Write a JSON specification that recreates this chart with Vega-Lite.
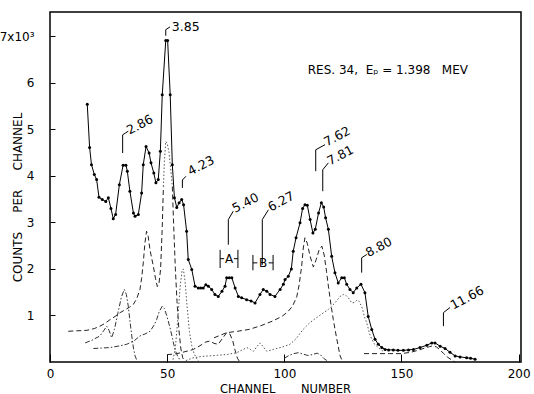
{
  "$schema": "https://vega.github.io/schema/vega-lite/v6.json",
  "width": 471,
  "height": 350,
  "autosize": {"type": "none"},
  "padding": {"left": 50, "top": 12, "right": 13, "bottom": 32},
  "background": "white",
  "config": {
    "font": "DejaVu Sans",
    "view": {"stroke": "black", "strokeWidth": 1.5},
    "axis": {"domain": false, "grid": false, "tickColor": "black", "labelColor": "black", "titleColor": "black", "labelFontWeight": "normal", "titleFontWeight": "normal"}
  },
  "datasets": {
    "main": [
      {"ch":15.9,"v":5.54},{"ch":16.9,"v":4.61},{"ch":17.7,"v":4.24},{"ch":18.9,"v":4.03},{"ch":19.9,"v":3.92},{"ch":20.9,"v":3.54},{"ch":22.3,"v":3.49},{"ch":23.8,"v":3.45},{"ch":24.9,"v":3.53},{"ch":26.0,"v":3.3},{"ch":27.0,"v":3.08},{"ch":28.0,"v":3.17},{"ch":29.6,"v":3.81},{"ch":31.2,"v":4.23},{"ch":32.4,"v":4.23},{"ch":33.0,"v":4.1},{"ch":34.1,"v":3.67},{"ch":35.6,"v":3.2},{"ch":36.3,"v":3.13},{"ch":37.7,"v":3.17},{"ch":39.1,"v":3.63},{"ch":39.8,"v":4.24},{"ch":41.0,"v":4.63},{"ch":42.3,"v":4.49},{"ch":43.1,"v":4.28},{"ch":44.3,"v":4.06},{"ch":45.2,"v":3.85},{"ch":46.2,"v":3.92},{"ch":47.1,"v":4.53},{"ch":47.9,"v":5.74},{"ch":49.4,"v":6.91},{"ch":50.2,"v":6.91},{"ch":51.3,"v":5.74},{"ch":52.2,"v":4.24},{"ch":53.1,"v":3.53},{"ch":54.1,"v":3.32},{"ch":55.1,"v":3.42},{"ch":56.2,"v":3.49},{"ch":57.0,"v":3.38},{"ch":58.3,"v":2.81},{"ch":59.0,"v":2.2},{"ch":60.5,"v":1.99},{"ch":61.9,"v":1.63},{"ch":63.3,"v":1.59},{"ch":64.3,"v":1.59},{"ch":65.4,"v":1.59},{"ch":66.5,"v":1.66},{"ch":67.6,"v":1.63},{"ch":69.0,"v":1.56},{"ch":70.4,"v":1.45},{"ch":71.8,"v":1.41},{"ch":73.4,"v":1.52},{"ch":74.7,"v":1.63},{"ch":75.4,"v":1.81},{"ch":76.5,"v":1.81},{"ch":77.6,"v":1.81},{"ch":79.0,"v":1.59},{"ch":80.4,"v":1.41},{"ch":81.8,"v":1.38},{"ch":83.9,"v":1.34},{"ch":85.8,"v":1.31},{"ch":87.5,"v":1.27},{"ch":89.6,"v":1.45},{"ch":91.0,"v":1.56},{"ch":92.5,"v":1.52},{"ch":93.9,"v":1.45},{"ch":96.0,"v":1.41},{"ch":98.2,"v":1.56},{"ch":99.6,"v":1.67},{"ch":100.3,"v":1.77},{"ch":101.7,"v":1.84},{"ch":103.0,"v":2.0},{"ch":103.8,"v":2.38},{"ch":105.0,"v":2.67},{"ch":106.7,"v":2.99},{"ch":107.8,"v":3.3},{"ch":108.8,"v":3.38},{"ch":109.8,"v":3.37},{"ch":111.0,"v":3.06},{"ch":112.2,"v":2.77},{"ch":113.2,"v":2.85},{"ch":114.6,"v":3.2},{"ch":115.8,"v":3.42},{"ch":116.8,"v":3.33},{"ch":117.6,"v":3.1},{"ch":118.8,"v":2.85},{"ch":120.2,"v":2.27},{"ch":121.6,"v":1.92},{"ch":123.0,"v":1.7},{"ch":124.5,"v":1.81},{"ch":125.6,"v":1.81},{"ch":126.6,"v":1.67},{"ch":128.0,"v":1.56},{"ch":129.4,"v":1.49},{"ch":130.9,"v":1.59},{"ch":132.7,"v":1.67},{"ch":134.4,"v":1.49},{"ch":135.8,"v":0.98},{"ch":137.3,"v":0.7},{"ch":138.7,"v":0.49},{"ch":140.1,"v":0.38},{"ch":141.6,"v":0.31},{"ch":143.0,"v":0.27},{"ch":144.5,"v":0.26},{"ch":146.5,"v":0.26},{"ch":148.5,"v":0.25},{"ch":150.8,"v":0.25},{"ch":153.0,"v":0.26},{"ch":155.1,"v":0.27},{"ch":157.9,"v":0.31},{"ch":160.8,"v":0.36},{"ch":162.9,"v":0.41},{"ch":164.3,"v":0.41},{"ch":166.5,"v":0.34},{"ch":168.6,"v":0.29},{"ch":170.7,"v":0.21},{"ch":172.9,"v":0.13},{"ch":175.0,"v":0.11},{"ch":177.8,"v":0.09},{"ch":179.5,"v":0.08},{"ch":181.4,"v":0.06}
    ],
    "dashed": [
      {"s":"a","ch":7.8,"v":0.66},{"s":"a","ch":11.5,"v":0.67},{"s":"a","ch":15.7,"v":0.68},{"s":"a","ch":19.0,"v":0.72},{"s":"a","ch":21.3,"v":0.77},{"s":"a","ch":23.5,"v":0.83},{"s":"a","ch":25.6,"v":0.91},{"s":"a","ch":27.8,"v":0.98},{"s":"a","ch":29.9,"v":1.06},{"s":"a","ch":32.0,"v":1.12},{"s":"a","ch":34.0,"v":1.18},{"s":"a","ch":35.6,"v":1.24},{"s":"a","ch":37.0,"v":1.36},{"s":"a","ch":38.4,"v":1.56},{"s":"a","ch":39.1,"v":1.8},{"s":"a","ch":39.8,"v":2.13},{"s":"a","ch":40.5,"v":2.55},{"s":"a","ch":41.2,"v":2.81},{"s":"a","ch":41.9,"v":2.7},{"s":"a","ch":42.7,"v":2.4},{"s":"a","ch":44.1,"v":2.06},{"s":"a","ch":45.0,"v":1.8},{"s":"a","ch":45.8,"v":1.62},{"s":"a","ch":46.5,"v":1.68},{"s":"a","ch":47.2,"v":2.0},{"s":"a","ch":47.9,"v":2.9},{"s":"a","ch":48.4,"v":3.77},
      {"s":"b","ch":52.2,"v":3.77},{"s":"b","ch":52.8,"v":2.9},{"s":"b","ch":53.5,"v":2.0},{"s":"b","ch":54.2,"v":1.3},{"s":"b","ch":55.0,"v":0.7},{"s":"b","ch":55.8,"v":0.3},{"s":"b","ch":56.6,"v":0.1},{"s":"b","ch":57.4,"v":0.0},
      {"s":"e","ch":70.0,"v":0.52},{"s":"e","ch":75.4,"v":0.63},{"s":"e","ch":80.0,"v":0.66},{"s":"e","ch":85.0,"v":0.7},{"s":"e","ch":90.0,"v":0.78},{"s":"e","ch":95.0,"v":0.88},{"s":"e","ch":99.0,"v":0.98},{"s":"e","ch":101.5,"v":1.08},{"s":"e","ch":103.5,"v":1.2},{"s":"e","ch":105.3,"v":1.4},{"s":"e","ch":106.3,"v":1.65},{"s":"e","ch":107.4,"v":2.06},{"s":"e","ch":108.1,"v":2.45},{"s":"e","ch":108.8,"v":2.67},{"s":"e","ch":109.8,"v":2.55},{"s":"e","ch":111.0,"v":2.27},{"s":"e","ch":112.4,"v":2.04},{"s":"e","ch":113.6,"v":2.2},{"s":"e","ch":114.8,"v":2.4},{"s":"e","ch":116.0,"v":2.49},{"s":"e","ch":117.0,"v":2.3},{"s":"e","ch":118.0,"v":1.95},{"s":"e","ch":118.8,"v":1.63},{"s":"e","ch":120.0,"v":1.2},{"s":"e","ch":120.9,"v":0.91},{"s":"e","ch":122.4,"v":0.49},{"s":"e","ch":123.8,"v":0.13},{"s":"e","ch":124.8,"v":0.02},
      {"s":"f","ch":50.0,"v":0.16},{"s":"f","ch":53.0,"v":0.17},{"s":"f","ch":56.0,"v":0.2},{"s":"f","ch":59.0,"v":0.24},{"s":"f","ch":61.2,"v":0.27},{"s":"f","ch":64.0,"v":0.35},{"s":"f","ch":66.5,"v":0.43},{"s":"f","ch":68.3,"v":0.45},{"s":"f","ch":70.0,"v":0.4},{"s":"f","ch":71.8,"v":0.38},{"s":"f","ch":73.5,"v":0.5},{"s":"f","ch":75.4,"v":0.63},{"s":"f","ch":76.8,"v":0.6},{"s":"f","ch":78.0,"v":0.45},{"s":"f","ch":79.0,"v":0.25},{"s":"f","ch":80.0,"v":0.08},{"s":"f","ch":81.0,"v":0.0},
      {"s":"h","ch":134.0,"v":0.18},{"s":"h","ch":140.0,"v":0.18},{"s":"h","ch":145.0,"v":0.18},{"s":"h","ch":150.0,"v":0.18},{"s":"h","ch":154.0,"v":0.21},{"s":"h","ch":157.0,"v":0.25},{"s":"h","ch":160.0,"v":0.3},{"s":"h","ch":162.0,"v":0.33},{"s":"h","ch":163.5,"v":0.35},{"s":"h","ch":165.0,"v":0.32},{"s":"h","ch":166.5,"v":0.26},{"s":"h","ch":168.0,"v":0.18},{"s":"h","ch":169.5,"v":0.11},{"s":"h","ch":171.5,"v":0.04},{"s":"h","ch":173.0,"v":0.0}
    ],
    "dotted": [
      {"s":"p385","ch":48.4,"v":3.77},{"s":"p385","ch":48.8,"v":4.3},{"s":"p385","ch":49.4,"v":4.74},{"s":"p385","ch":50.0,"v":4.7},{"s":"p385","ch":50.8,"v":4.5},{"s":"p385","ch":51.5,"v":4.15},{"s":"p385","ch":52.2,"v":3.77},
      {"s":"p423","ch":52.5,"v":0.05},{"s":"p423","ch":53.5,"v":0.3},{"s":"p423","ch":54.5,"v":0.9},{"s":"p423","ch":55.5,"v":1.6},{"s":"p423","ch":56.3,"v":1.95},{"s":"p423","ch":56.9,"v":2.0},{"s":"p423","ch":57.6,"v":1.75},{"s":"p423","ch":58.5,"v":1.2},{"s":"p423","ch":59.5,"v":0.65},{"s":"p423","ch":60.5,"v":0.35},{"s":"p423","ch":61.5,"v":0.18},{"s":"p423","ch":62.5,"v":0.08},{"s":"p423","ch":63.5,"v":0.02},
      {"s":"p880","ch":58.0,"v":0.03},{"s":"p880","ch":61.0,"v":0.09},{"s":"p880","ch":65.0,"v":0.12},{"s":"p880","ch":70.0,"v":0.14},{"s":"p880","ch":75.4,"v":0.16},{"s":"p880","ch":79.7,"v":0.2},{"s":"p880","ch":82.0,"v":0.26},{"s":"p880","ch":84.0,"v":0.31},{"s":"p880","ch":85.5,"v":0.27},{"s":"p880","ch":86.8,"v":0.23},{"s":"p880","ch":88.3,"v":0.33},{"s":"p880","ch":89.6,"v":0.41},{"s":"p880","ch":91.0,"v":0.33},{"s":"p880","ch":92.5,"v":0.23},{"s":"p880","ch":95.3,"v":0.27},{"s":"p880","ch":99.0,"v":0.32},{"s":"p880","ch":102.4,"v":0.38},{"s":"p880","ch":105.0,"v":0.5},{"s":"p880","ch":108.0,"v":0.7},{"s":"p880","ch":111.0,"v":0.85},{"s":"p880","ch":114.5,"v":0.98},{"s":"p880","ch":118.8,"v":1.13},{"s":"p880","ch":121.6,"v":1.27},{"s":"p880","ch":123.8,"v":1.41},{"s":"p880","ch":125.2,"v":1.45},{"s":"p880","ch":126.3,"v":1.43},{"s":"p880","ch":127.3,"v":1.38},{"s":"p880","ch":128.8,"v":1.27},{"s":"p880","ch":130.0,"v":1.28},{"s":"p880","ch":131.0,"v":1.33},{"s":"p880","ch":132.0,"v":1.3},{"s":"p880","ch":133.3,"v":1.15},{"s":"p880","ch":134.3,"v":0.95},{"s":"p880","ch":135.2,"v":0.84},{"s":"p880","ch":136.3,"v":0.62},{"s":"p880","ch":137.3,"v":0.49},{"s":"p880","ch":138.5,"v":0.38},{"s":"p880","ch":139.4,"v":0.34},{"s":"p880","ch":141.0,"v":0.27},{"s":"p880","ch":142.5,"v":0.22}
    ],
    "dashdot": [
      {"s":"p286","ch":15.0,"v":0.41},{"s":"p286","ch":18.0,"v":0.47},{"s":"p286","ch":21.3,"v":0.56},{"s":"p286","ch":23.0,"v":0.68},{"s":"p286","ch":24.2,"v":0.77},{"s":"p286","ch":25.2,"v":0.68},{"s":"p286","ch":26.3,"v":0.52},{"s":"p286","ch":27.5,"v":0.7},{"s":"p286","ch":29.0,"v":1.06},{"s":"p286","ch":30.5,"v":1.4},{"s":"p286","ch":31.7,"v":1.56},{"s":"p286","ch":32.6,"v":1.45},{"s":"p286","ch":33.4,"v":1.2},{"s":"p286","ch":34.2,"v":0.85},{"s":"p286","ch":34.9,"v":0.56},{"s":"p286","ch":35.6,"v":0.3},{"s":"p286","ch":36.3,"v":0.13},{"s":"p286","ch":37.2,"v":0.02},
      {"s":"d","ch":18.5,"v":0.29},{"s":"d","ch":22.0,"v":0.3},{"s":"d","ch":25.6,"v":0.31},{"s":"d","ch":29.0,"v":0.34},{"s":"d","ch":32.7,"v":0.38},{"s":"d","ch":36.0,"v":0.46},{"s":"d","ch":38.4,"v":0.56},{"s":"d","ch":40.5,"v":0.6},{"s":"d","ch":42.7,"v":0.66},{"s":"d","ch":44.5,"v":0.8},{"s":"d","ch":45.5,"v":0.91},{"s":"d","ch":46.6,"v":1.08},{"s":"d","ch":47.9,"v":1.2},{"s":"d","ch":48.8,"v":1.15},{"s":"d","ch":49.8,"v":1.0},{"s":"d","ch":51.2,"v":0.74},{"s":"d","ch":52.3,"v":0.5},{"s":"d","ch":53.3,"v":0.27},{"s":"d","ch":54.5,"v":0.12},{"s":"d","ch":55.5,"v":0.04},
      {"s":"g","ch":100.0,"v":0.08},{"s":"g","ch":102.0,"v":0.14},{"s":"g","ch":104.0,"v":0.18},{"s":"g","ch":106.0,"v":0.2},{"s":"g","ch":108.0,"v":0.17},{"s":"g","ch":110.0,"v":0.14},{"s":"g","ch":112.0,"v":0.16},{"s":"g","ch":114.0,"v":0.19},{"s":"g","ch":115.5,"v":0.15},{"s":"g","ch":117.0,"v":0.07},{"s":"g","ch":118.5,"v":0.02}
    ],
    "brackets": [
      {"id":"286","k":0,"ch":31.0,"v":4.49},{"id":"286","k":1,"ch":31.0,"v":4.88},{"id":"286","k":2,"ch":33.4,"v":4.96},
      {"id":"385","k":0,"ch":49.4,"v":7.01},{"id":"385","k":1,"ch":49.4,"v":7.14},{"id":"385","k":2,"ch":51.2,"v":7.2},
      {"id":"423","k":0,"ch":56.5,"v":3.74},{"id":"423","k":1,"ch":56.5,"v":3.91},{"id":"423","k":2,"ch":58.0,"v":3.99},
      {"id":"540","k":0,"ch":76.1,"v":2.52},{"id":"540","k":1,"ch":76.1,"v":3.06},{"id":"540","k":2,"ch":78.2,"v":3.24},
      {"id":"627","k":0,"ch":90.6,"v":2.09},{"id":"627","k":1,"ch":90.6,"v":3.06},{"id":"627","k":2,"ch":93.2,"v":3.27},
      {"id":"762","k":0,"ch":113.4,"v":4.1},{"id":"762","k":1,"ch":113.4,"v":4.56},{"id":"762","k":2,"ch":117.4,"v":4.67},
      {"id":"781","k":0,"ch":116.4,"v":3.67},{"id":"781","k":1,"ch":116.4,"v":4.13},{"id":"781","k":2,"ch":118.8,"v":4.28},
      {"id":"880","k":0,"ch":133.0,"v":1.92},{"id":"880","k":1,"ch":133.0,"v":2.24},{"id":"880","k":2,"ch":135.2,"v":2.31},
      {"id":"1166","k":0,"ch":167.9,"v":0.77},{"id":"1166","k":1,"ch":167.9,"v":1.06},{"id":"1166","k":2,"ch":170.7,"v":1.17}
    ],
    "labels": [
      {"ch":33.9,"v":4.88,"t":"2.86"},
      {"ch":60.0,"v":4.0,"t":"4.23"},
      {"ch":79.0,"v":3.2,"t":"5.40"},
      {"ch":94.2,"v":3.23,"t":"6.27"},
      {"ch":118.1,"v":4.63,"t":"7.62"},
      {"ch":119.5,"v":4.22,"t":"7.81"},
      {"ch":135.9,"v":2.25,"t":"8.80"},
      {"ch":172.1,"v":1.12,"t":"11.66"}
    ],
    "boxes": [
      {"ch":72.6,"ch2":72.6,"v":2.02,"v2":2.41},
      {"ch":80.2,"ch2":80.2,"v":2.02,"v2":2.41},
      {"ch":72.6,"ch2":74.3,"v":2.22,"v2":2.22},
      {"ch":78.5,"ch2":80.2,"v":2.22,"v2":2.22},
      {"ch":86.6,"ch2":86.6,"v":1.97,"v2":2.3},
      {"ch":95.2,"ch2":95.2,"v":1.97,"v2":2.3},
      {"ch":86.6,"ch2":88.5,"v":2.13,"v2":2.13},
      {"ch":93.3,"ch2":95.2,"v":2.13,"v2":2.13}
    ],
    "letters": [
      {"ch":76.4,"v":2.22,"t":"A"},
      {"ch":90.9,"v":2.13,"t":"B"}
    ],
    "peak385": [
      {"ch":52.0,"v":7.2,"t":"3.85"}
    ],
    "note": [
      {"ch":110.0,"v":6.28,"t":"RES. 34,\u00a0\u00a0Eₚ\u00a0=\u00a01.398\u00a0\u00a0\u00a0MEV"}
    ]
  },
  "encoding": {
    "x": {
      "field": "ch", "type": "quantitative",
      "scale": {"domain": [0, 201], "nice": false, "zero": false},
      "axis": {
        "values": [0, 50, 100, 150, 200], "tickSize": -8, "labelPadding": 14,
        "labelFontSize": 12, "labelFlush": false,
        "title": "CHANNEL\u00a0\u00a0\u00a0\u00a0\u00a0\u00a0\u00a0NUMBER", "titleFontSize": 11.5,
        "titleX": 235, "titleY": 27, "titleAlign": "center", "titleBaseline": "middle"
      }
    },
    "y": {
      "field": "v", "type": "quantitative",
      "scale": {"domain": [0, 7.52], "nice": false, "zero": false},
      "axis": {
        "values": [1, 2, 3, 4, 5, 6, 7], "tickSize": -5, "labelPadding": 21,
        "labelFontSize": 12, "labelFlush": false,
        "labelExpr": "datum.value == 7 ? '7x10³' : datum.label",
        "title": "COUNTS\u00a0\u00a0\u00a0\u00a0\u00a0PER\u00a0\u00a0\u00a0\u00a0\u00a0CHANNEL", "titleFontSize": 12,
        "titleX": -33, "titleY": 185, "titleAngle": -90, "titleAlign": "center", "titleBaseline": "middle"
      }
    }
  },
  "layer": [
    {
      "data": {"name": "dashed"},
      "mark": {"type": "line", "stroke": "#222", "strokeWidth": 1, "strokeDash": [5, 3]},
      "encoding": {"detail": {"field": "s"}}
    },
    {
      "data": {"name": "dotted"},
      "mark": {"type": "line", "stroke": "#555", "strokeWidth": 1, "strokeDash": [1.5, 2]},
      "encoding": {"detail": {"field": "s"}}
    },
    {
      "data": {"name": "dashdot"},
      "mark": {"type": "line", "stroke": "#333", "strokeWidth": 1, "strokeDash": [5, 2, 1.5, 2]},
      "encoding": {"detail": {"field": "s"}}
    },
    {
      "data": {"name": "main"},
      "mark": {"type": "line", "stroke": "black", "strokeWidth": 1}
    },
    {
      "data": {"name": "main"},
      "mark": {"type": "circle", "color": "black", "size": 9, "opacity": 1}
    },
    {
      "data": {"name": "brackets"},
      "mark": {"type": "line", "stroke": "black", "strokeWidth": 1},
      "encoding": {"detail": {"field": "id"}, "order": {"field": "k"}}
    },
    {
      "data": {"name": "labels"},
      "mark": {"type": "text", "angle": -28, "align": "left", "baseline": "alphabetic", "fontSize": 12.5, "color": "black"},
      "encoding": {"text": {"field": "t"}}
    },
    {
      "data": {"name": "peak385"},
      "mark": {"type": "text", "align": "left", "baseline": "middle", "fontSize": 12.5, "color": "black"},
      "encoding": {"text": {"field": "t"}}
    },
    {
      "data": {"name": "boxes"},
      "mark": {"type": "rule", "stroke": "black", "strokeWidth": 1},
      "encoding": {"x2": {"field": "ch2"}, "y2": {"field": "v2"}}
    },
    {
      "data": {"name": "letters"},
      "mark": {"type": "text", "align": "center", "baseline": "middle", "fontSize": 12, "color": "black"},
      "encoding": {"text": {"field": "t"}}
    },
    {
      "data": {"name": "note"},
      "mark": {"type": "text", "align": "left", "baseline": "middle", "fontSize": 12, "color": "black"},
      "encoding": {"text": {"field": "t"}}
    }
  ]
}
